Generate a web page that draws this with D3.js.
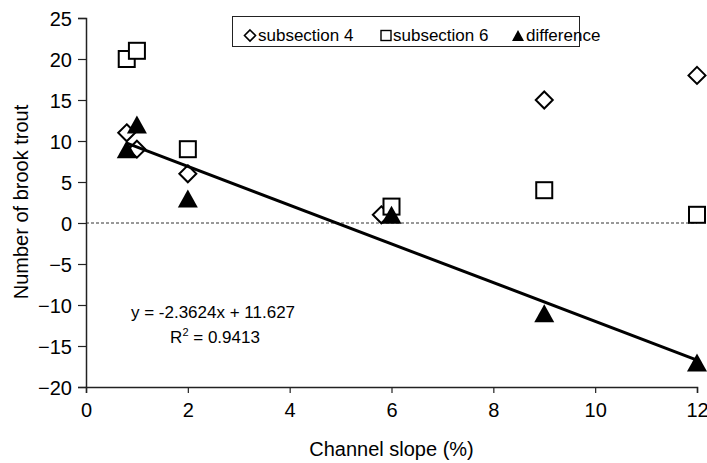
<!DOCTYPE html>
<html>
<head>
<meta charset="utf-8">
<script src="https://cdn.jsdelivr.net/npm/d3@7"></script>
<style>
  body { margin: 0; background: #fff; }
  text { font-family: "Liberation Sans", Arial, sans-serif; fill: #000; }
</style>
</head>
<body>
<svg id="chart" width="707" height="463"></svg>
<script>
// channel slope (%) for each site, per series
const slope4 = [0.8, 1, 2, 5.8, 9, 12]
const slope6 = [0.8, 1, 2, 6, 9, 12]
// number of brook trout
const sub4 = [11, 9, 6, 1, 15, 18]
const sub6 = [20, 21, 9, 2, 4, 1]
const diff = [9, 12, 3, 1, -11, -17]

const xTicks = [0, 2, 4, 6, 8, 10, 12]
const yTicks = [-20, -15, -10, -5, 0, 5, 10, 15, 20, 25]

// linear fit shown on the chart
const fitSlope = -2.3624
const fitIntercept = 11.627
const fitLabel = "y = -2.3624x + 11.627"
const r2Label = "0.9413"

const svg = d3.select("#chart")

const x = d3.scaleLinear().domain([0, 12]).range([86, 697])
const y = d3.scaleLinear().domain([-20, 25]).range([387, 18])

// zero line
svg.append("line")
  .attr("x1", x(0)).attr("x2", x(12))
  .attr("y1", y(0)).attr("y2", y(0))
  .attr("stroke", "#333").attr("stroke-width", 1)
  .attr("stroke-dasharray", "3,2")

// axes
let yAxis = svg.append("g")
  .attr("transform", `translate(${x(0)},0)`)
  .call(d3.axisLeft(y).tickValues(yTicks).tickSize(8).tickPadding(6))
let xAxis = svg.append("g")
  .attr("transform", `translate(0,${y(-20)})`)
  .call(d3.axisBottom(x).tickValues(xTicks).tickSize(6).tickPadding(10))

;[xAxis, yAxis].forEach(a => {
  a.select(".domain").attr("stroke", "#222").attr("stroke-width", 1.5)
  a.selectAll(".tick line").attr("stroke", "#222").attr("stroke-width", 1.2)
  a.selectAll(".tick text")
    .attr("font-family", "Liberation Sans, Arial, sans-serif")
    .attr("font-size", 20).attr("fill", "#000")
})
yAxis.selectAll(".tick text").attr("dy", "0.36em")

svg.append("text")
  .attr("x", (x(0) + x(12)) / 2).attr("y", 456)
  .attr("text-anchor", "middle").attr("font-size", 20)
  .text("Channel slope (%)")

svg.append("text")
  .attr("transform", "translate(28,202) rotate(-90)")
  .attr("text-anchor", "middle").attr("font-size", 20)
  .text("Number of brook trout")

// markers
const diamond = (cx, cy, r) => `M${cx},${cy - r}L${cx + r},${cy}L${cx},${cy + r}L${cx - r},${cy}Z`
const triangle = (cx, cy, w, h) => `M${cx},${cy - h / 2}L${cx + w / 2},${cy + h / 2}L${cx - w / 2},${cy + h / 2}Z`

svg.append("g").selectAll("path")
  .data(sub4.map((v, i) => [slope4[i], v]))
  .enter().append("path")
  .attr("d", d => diamond(x(d[0]), y(d[1]), 8.5))
  .attr("fill", "#fff").attr("stroke", "#000").attr("stroke-width", 2)

svg.append("g").selectAll("rect")
  .data(sub6.map((v, i) => [slope6[i], v]))
  .enter().append("rect")
  .attr("x", d => x(d[0]) - 8).attr("y", d => y(d[1]) - 8)
  .attr("width", 16).attr("height", 16)
  .attr("fill", "#fff").attr("stroke", "#000").attr("stroke-width", 2)

svg.append("g").selectAll("path")
  .data(diff.map((v, i) => [slope6[i], v]))
  .enter().append("path")
  .attr("d", d => triangle(x(d[0]), y(d[1]), 20, 18))
  .attr("fill", "#000")

// trendline
let x0 = d3.min(slope6), x1 = d3.max(slope6)
svg.append("line")
  .attr("x1", x(x0)).attr("y1", y(fitSlope * x0 + fitIntercept))
  .attr("x2", x(x1)).attr("y2", y(fitSlope * x1 + fitIntercept))
  .attr("stroke", "#000").attr("stroke-width", 3)

// equation
svg.append("text")
  .attr("x", 213).attr("y", 318)
  .attr("text-anchor", "middle").attr("font-size", 17)
  .text(fitLabel)
let r2 = svg.append("text")
  .attr("x", 215).attr("y", 343)
  .attr("text-anchor", "middle").attr("font-size", 17)
r2.append("tspan").text("R")
r2.append("tspan").attr("font-size", 11).attr("dy", -7).text("2")
r2.append("tspan").attr("dy", 7).text(" = " + r2Label)

// legend
let legend = svg.append("g")
legend.append("rect")
  .attr("x", 232.5).attr("y", 16.5).attr("width", 347).attr("height", 30)
  .attr("fill", "#fff").attr("stroke", "#222").attr("stroke-width", 1)
legend.append("path").attr("d", diamond(250, 35.5, 5.5))
  .attr("fill", "#fff").attr("stroke", "#000").attr("stroke-width", 1.6)
legend.append("rect").attr("x", 381).attr("y", 30.5).attr("width", 10).attr("height", 10)
  .attr("fill", "#fff").attr("stroke", "#000").attr("stroke-width", 1.4)
legend.append("path").attr("d", triangle(518, 35.5, 12, 11)).attr("fill", "#000")
;[["subsection 4", 258], ["subsection 6", 393], ["difference", 526]].forEach(([t, lx]) => {
  legend.append("text").attr("x", lx).attr("y", 41).attr("font-size", 17).text(t)
})
</script>
</body>
</html>
